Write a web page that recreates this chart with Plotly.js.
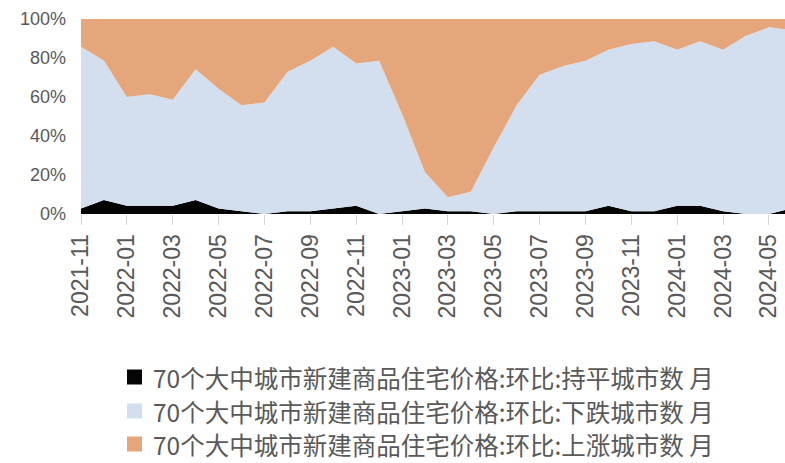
<!DOCTYPE html>
<html>
<head>
<meta charset="utf-8">
<script src="https://cdn.plot.ly/plotly-3.0.1.min.js"></script>
<style>html,body{margin:0;padding:0;background:#fff;}#chart{width:785px;height:463px;}</style>
</head>
<body>
<div id="chart"></div>
<script>
// Months (2021-11 .. 2024-06)
const months = ["2021-11","2021-12","2022-01","2022-02","2022-03","2022-04","2022-05","2022-06","2022-07","2022-08","2022-09","2022-10","2022-11","2022-12","2023-01","2023-02","2023-03","2023-04","2023-05","2023-06","2023-07","2023-08","2023-09","2023-10","2023-11","2023-12","2024-01","2024-02","2024-03","2024-04","2024-05","2024-06"];
// Number of cities (out of 70)
const flatCities = [2,5,3,3,3,5,2,1,0,1,1,2,3,0,1,2,1,1,0,1,1,1,1,3,1,1,3,3,1,0,0,2];
const downCities = [58,50,39,40,38,47,43,38,40,50,54,58,51,55,35,13,5,7,24,38,49,52,54,56,60,61,56,59,58,64,67,64];
const upCities   = [10,15,28,27,29,18,25,31,30,19,15,10,16,15,34,55,64,62,46,31,20,17,15,11,9,8,11,8,11,6,3,4];
const tickLabels = ["2021-11","2022-01","2022-03","2022-05","2022-07","2022-09","2022-11","2023-01","2023-03","2023-05","2023-07","2023-09","2023-11","2024-01","2024-03","2024-05"];
const yTickVals = [0,20,40,60,80,100];
const yTickText = ["0%","20%","40%","60%","80%","100%"];
const names = ["70个大中城市新建商品住宅价格:环比:持平城市数 月","70个大中城市新建商品住宅价格:环比:下跌城市数 月","70个大中城市新建商品住宅价格:环比:上涨城市数 月"];
const colors = ["#050505","#d3dfee","#e6a67b"];
const series = [flatCities, downCities, upCities];

const W = 785, H = 463;
const M = {l: 81, r: 0, t: 19, b: 249};
const pw = W - M.l - M.r, ph = H - M.t - M.b;
const px2x = p => (p - M.l) / pw;
const px2y = p => (H - M.b - p) / ph;

const traces = series.map((vals, i) => ({
  type: "scatter", mode: "none", x: months, y: vals, name: names[i],
  stackgroup: "one", groupnorm: i === 0 ? "percent" : undefined,
  fillcolor: colors[i], line: {width: 0, shape: "linear"},
  showlegend: false, hoverinfo: "skip"
}));

// Custom legend (real text) drawn with annotations + square shapes
const rowY = [377, 411, 444];
const annotations = names.map((n, i) => ({
  xref: "paper", yref: "paper", x: px2x(151), y: px2y(rowY[i]),
  xanchor: "left", yanchor: "middle", showarrow: false, text: n,
  font: {family: "Noto Sans CJK SC, sans-serif", size: 24.5, color: "#595959"}
}));
const shapes = colors.map((c, i) => ({
  type: "rect", xref: "paper", yref: "paper",
  x0: px2x(127), x1: px2x(142), y0: px2y(rowY[i] - 7.5), y1: px2y(rowY[i] + 7.5),
  fillcolor: c, line: {width: 0}
}));

const layout = {
  width: W, height: H, margin: M,
  paper_bgcolor: "#ffffff", plot_bgcolor: "#ffffff",
  showlegend: false,
  annotations: annotations, shapes: shapes,
  xaxis: {
    type: "category", range: [0, 30.7],
    tickmode: "array", tickvals: tickLabels, ticktext: tickLabels,
    tickangle: -90, ticks: "outside", ticklen: 10, tickcolor: "#d6d6d6",
    showline: false, showgrid: false, zeroline: false, automargin: false,
    tickfont: {family: "Liberation Sans, Arial, sans-serif", size: 23, color: "#595959"}
  },
  yaxis: {
    range: [0, 100], tickmode: "array", tickvals: yTickVals, ticktext: yTickText,
    showgrid: false, zeroline: false, showline: false, ticks: "", automargin: false,
    ticklabelstandoff: 14,
    tickfont: {family: "Liberation Sans, Arial, sans-serif", size: 18, color: "#595959"}
  }
};
Plotly.newPlot("chart", traces, layout, {displayModeBar: false, staticPlot: true});
</script>
</body>
</html>
